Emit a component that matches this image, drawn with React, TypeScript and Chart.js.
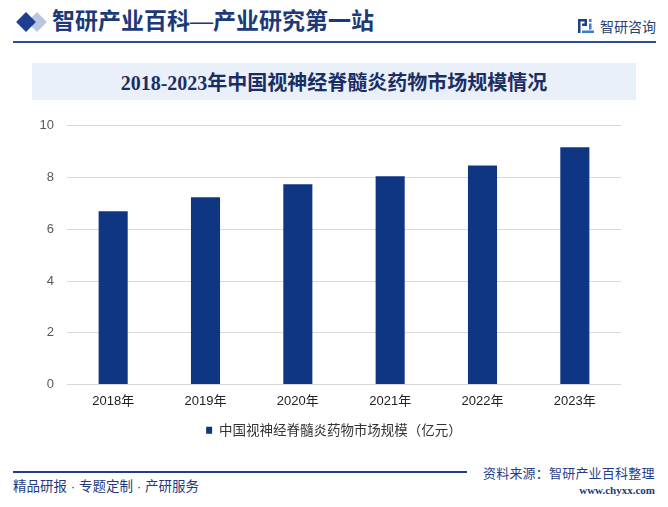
import React, { useEffect, useRef } from "react";
import { Chart, registerables } from "chart.js";

Chart.register(...registerables);

const categories = ["2018年", "2019年", "2020年", "2021年", "2022年", "2023年"];
const marketSize = [6.7, 7.24, 7.74, 8.05, 8.47, 9.17];
const seriesLabel = "中国视神经脊髓炎药物市场规模（亿元）";
const yMin = 0;
const yMax = 10;
const yStep = 2;

const BAR_COLOR = "#0f3683";
const NAVY = "#1d3a78";

function BarChart() {
  const ref = useRef<HTMLCanvasElement | null>(null);
  useEffect(() => {
    if (!ref.current) return;
    const chart = new Chart(ref.current, {
      type: "bar",
      data: {
        labels: categories,
        datasets: [
          {
            label: seriesLabel,
            data: marketSize,
            backgroundColor: BAR_COLOR,
            borderWidth: 0,
            barPercentage: 0.315,
            categoryPercentage: 1,
            yAxisID: "y",
          },
        ],
      },
      options: {
        animation: false,
        responsive: false,
        maintainAspectRatio: false,
        layout: { padding: { top: 15, right: 0, left: 0, bottom: 0 } },
        plugins: {
          tooltip: { enabled: false },
          legend: {
            display: true,
            position: "bottom",
            labels: {
              boxWidth: 6,
              boxHeight: 7,
              padding: 10,
              color: "#333333",
              font: { size: 13.5, family: '"Noto Sans CJK SC", "Liberation Sans", sans-serif' },
            },
          },
        },
        scales: {
          x: {
            grid: { display: false, drawTicks: false },
            border: { display: false },
            ticks: {
              color: "#222222",
              padding: 9,
              font: { size: 13, family: '"Liberation Sans", "Noto Sans CJK SC", sans-serif' },
            },
            afterFit: (s: any) => {
              s.height = 29;
            },
          },
          y: {
            min: yMin,
            max: yMax,
            ticks: {
              stepSize: yStep,
              color: "#595959",
              padding: 13,
              font: { size: 13, family: '"Liberation Sans", sans-serif' },
            },
            grid: { color: "#d9d9d9", lineWidth: 1, drawTicks: false },
            border: { display: false },
            afterFit: (s: any) => {
              s.width = 67;
            },
          },
          yRight: {
            position: "right",
            min: yMin,
            max: yMax,
            ticks: { display: false },
            grid: { display: false, drawTicks: false },
            border: { display: false },
            afterFit: (s: any) => {
              s.width = 47;
            },
          },
        },
      },
    });
    return () => chart.destroy();
  }, []);
  return <canvas ref={ref} width={668} height={342} style={{ display: "block" }} />;
}

function Logo() {
  return (
    <svg width="16" height="14" viewBox="0 0 16 14" style={{ position: "absolute", left: 578, top: 19 }}>
      <rect x="0" y="0" width="9" height="2.5" fill="#1f3f86" />
      <rect x="0" y="0" width="2.5" height="14" fill="#1f3f86" />
      <rect x="6.5" y="0" width="2.5" height="7" fill="#1f3f86" />
      <rect x="4" y="4.5" width="5" height="2.5" fill="#1f3f86" />
      <rect x="11" y="0" width="2.5" height="3" fill="#3a7bd5" />
      <rect x="11" y="4.5" width="2.5" height="6" fill="#3a7bd5" />
      <rect x="4" y="11.5" width="12" height="2.5" fill="#3a7bd5" />
    </svg>
  );
}

export default function App() {
  return (
    <div
      style={{
        position: "fixed",
        left: 0,
        top: 0,
        width: 668,
        height: 507,
        background: "#ffffff",
        overflow: "hidden",
        fontFamily: '"Noto Sans CJK SC", sans-serif',
      }}
    >
      {/* header diamonds */}
      <div
        style={{
          position: "absolute",
          left: 30,
          top: 15,
          width: 14,
          height: 14,
          background: "#b9c6e2",
          transform: "rotate(45deg)",
        }}
      />
      <div
        style={{
          position: "absolute",
          left: 19,
          top: 15,
          width: 14,
          height: 14,
          background: "#1c3f8f",
          transform: "rotate(45deg)",
        }}
      />
      <div
        style={{
          position: "absolute",
          left: 52,
          top: 6,
          height: 32,
          lineHeight: "32px",
          fontSize: 23,
          fontWeight: 700,
          color: NAVY,
          whiteSpace: "nowrap",
          fontFamily: '"Liberation Serif", "Noto Sans CJK SC", serif',
        }}
      >
        智研产业百科—产业研究第一站
      </div>
      <Logo />
      <div
        style={{
          position: "absolute",
          left: 600,
          top: 16,
          height: 20,
          lineHeight: "20px",
          fontSize: 14,
          color: "#2a3f6e",
          whiteSpace: "nowrap",
        }}
      >
        智研咨询
      </div>
      <div style={{ position: "absolute", left: 13, top: 41, width: 643, height: 2, background: "#2a4f96" }} />

      {/* title box */}
      <div
        style={{
          position: "absolute",
          left: 32,
          top: 63,
          width: 604,
          height: 37,
          background: "#eaf0fa",
          display: "flex",
          alignItems: "center",
          justifyContent: "center",
          fontSize: 20,
          fontWeight: 700,
          color: "#1b2e63",
          whiteSpace: "nowrap",
          fontFamily: '"Liberation Serif", "Noto Sans CJK SC", serif',
        }}
      >
        2018-2023年中国视神经脊髓炎药物市场规模情况
      </div>

      {/* chart */}
      <div style={{ position: "absolute", left: 0, top: 105, width: 668, height: 342 }}>
        <BarChart />
      </div>

      {/* footer */}
      <div style={{ position: "absolute", left: 13, top: 471, width: 454, height: 2, background: "#1f3f8c" }} />
      <div
        style={{
          position: "absolute",
          left: 483,
          top: 463,
          height: 20,
          lineHeight: "20px",
          fontSize: 13,
          color: "#1f3f8c",
          whiteSpace: "nowrap",
          letterSpacing: 0.2,
        }}
      >
        资料来源：智研产业百科整理
      </div>
      <div
        style={{
          position: "absolute",
          left: 13,
          top: 477,
          height: 20,
          lineHeight: "20px",
          fontSize: 13.5,
          color: "#1f3a7a",
          whiteSpace: "nowrap",
          fontFamily: '"Liberation Sans", "Noto Sans CJK SC", sans-serif',
        }}
      >
        精品研报 · 专题定制 · 产研服务
      </div>
      <div
        style={{
          position: "absolute",
          right: 13,
          top: 483,
          height: 14,
          lineHeight: "14px",
          fontSize: 11,
          fontWeight: 700,
          color: "#1f3a7a",
          whiteSpace: "nowrap",
          fontFamily: '"Liberation Serif", serif',
        }}
      >
        www.chyxx.com
      </div>
    </div>
  );
}
